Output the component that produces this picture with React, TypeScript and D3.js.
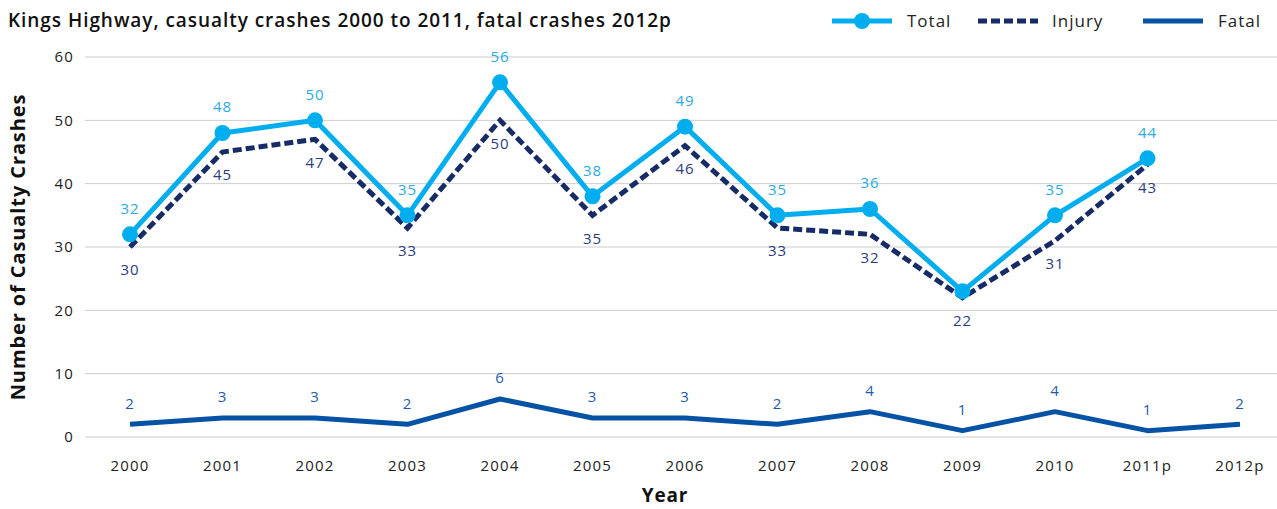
import React from "react";
import * as d3 from "d3";

const years = ["2000", "2001", "2002", "2003", "2004", "2005", "2006", "2007", "2008", "2009", "2010", "2011p", "2012p"];
const totalValues = [32, 48, 50, 35, 56, 38, 49, 35, 36, 23, 35, 44];
const totalLabelled = [true, true, true, true, true, true, true, true, true, false, true, true];
const injuryValues = [30, 45, 47, 33, 50, 35, 46, 33, 32, 22, 31, 43];
const fatalValues = [2, 3, 3, 2, 6, 3, 3, 2, 4, 1, 4, 1, 2];
const yTicks = [0, 10, 20, 30, 40, 50, 60];

const W = 1277;
const H = 509;
const FONT = "'Open Sans', 'DejaVu Sans', sans-serif";

const C_TOTAL = "#00AEEF";
const C_INJ = "#172B66";
const C_FATAL = "#0652A5";
const C_TOTAL_LBL = "#29ABE2";
const C_INJ_LBL = "#2B3C7E";
const C_FATAL_LBL = "#1D5BAA";

export default function App() {
  const x = d3.scaleBand<string>().domain(years).range([83.75, 1286.25]).paddingInner(0).paddingOuter(0);
  const cx = (i: number) => (x(years[i]) as number) + x.bandwidth() / 2;
  const y = d3.scaleLinear().domain([0, 60]).range([437, 57]);

  const line = d3
    .line<number>()
    .x((_, i) => cx(i))
    .y((v) => y(v));

  const lblProps = { textAnchor: "middle" as const, fontSize: 15, letterSpacing: 0.8 };

  return (
    <svg width={W} height={H} style={{ position: "absolute", left: 0, top: 0, background: "#fff" }} fontFamily={FONT}>
      {/* Title */}
      <text x={8} y={27} fontSize={19} fontWeight={600} letterSpacing={0.95} fill="#111">
        Kings Highway, casualty crashes 2000 to 2011, fatal crashes 2012p
      </text>

      {/* Legend */}
      <g>
        <line x1={832} x2={892} y1={21} y2={21} stroke={C_TOTAL} strokeWidth={5} />
        <circle cx={862} cy={21} r={8} fill={C_TOTAL} />
        <text x={907} y={27} fontSize={17} letterSpacing={1} fill="#222">Total</text>
        <line x1={978} x2={1038} y1={21} y2={21} stroke={C_INJ} strokeWidth={5} strokeDasharray="9,4" />
        <text x={1052} y={27} fontSize={17} letterSpacing={1} fill="#222">Injury</text>
        <line x1={1143} x2={1203} y1={21} y2={21} stroke={C_FATAL} strokeWidth={5} />
        <text x={1218} y={27} fontSize={17} letterSpacing={1} fill="#222">Fatal</text>
      </g>

      {/* Gridlines and y ticks */}
      {yTicks.map((t) => (
        <g key={t}>
          <line x1={85} x2={W} y1={y(t)} y2={y(t)} stroke="#cccccc" strokeWidth={1} />
          <text x={74} y={y(t)} dy="0.35em" textAnchor="end" fontSize={15} letterSpacing={1.2} fill="#222">
            {t}
          </text>
        </g>
      ))}

      {/* X ticks */}
      {years.map((yr, i) => (
        <text key={yr} x={cx(i)} y={471} textAnchor="middle" fontSize={15} letterSpacing={1.2} fill="#222">
          {yr}
        </text>
      ))}

      {/* Axis titles */}
      <text
        transform={`translate(25, 247) rotate(-90)`}
        textAnchor="middle"
        fontSize={20}
        fontWeight={700}
        letterSpacing={0.9}
        fill="#111"
      >
        Number of Casualty Crashes
      </text>
      <text x={665} y={502} textAnchor="middle" fontSize={19} fontWeight={700} letterSpacing={0.8} fill="#111">
        Year
      </text>

      {/* Injury (dashed) */}
      <path d={line(injuryValues) || ""} fill="none" stroke={C_INJ} strokeWidth={5} strokeDasharray="9,4" strokeLinejoin="miter" />

      {/* Total */}
      <path d={line(totalValues) || ""} fill="none" stroke={C_TOTAL} strokeWidth={5} strokeLinejoin="round" />
      {totalValues.map((v, i) => (
        <circle key={i} cx={cx(i)} cy={y(v)} r={8} fill={C_TOTAL} />
      ))}

      {/* Fatal */}
      <path d={line(fatalValues) || ""} fill="none" stroke={C_FATAL} strokeWidth={5} strokeLinejoin="round" />

      {/* Labels */}
      {totalValues.map((v, i) =>
        totalLabelled[i] ? (
          <text key={"t" + i} x={cx(i)} y={y(v) - 26} dy="0.35em" {...lblProps} fill={C_TOTAL_LBL}>
            {v}
          </text>
        ) : null
      )}
      {injuryValues.map((v, i) => (
        <text key={"j" + i} x={cx(i)} y={y(v) + 23} dy="0.35em" {...lblProps} fill={C_INJ_LBL}>
          {v}
        </text>
      ))}
      {fatalValues.map((v, i) => (
        <text key={"f" + i} x={cx(i)} y={y(v) - 21} dy="0.35em" {...lblProps} fill={C_FATAL_LBL}>
          {v}
        </text>
      ))}
    </svg>
  );
}
